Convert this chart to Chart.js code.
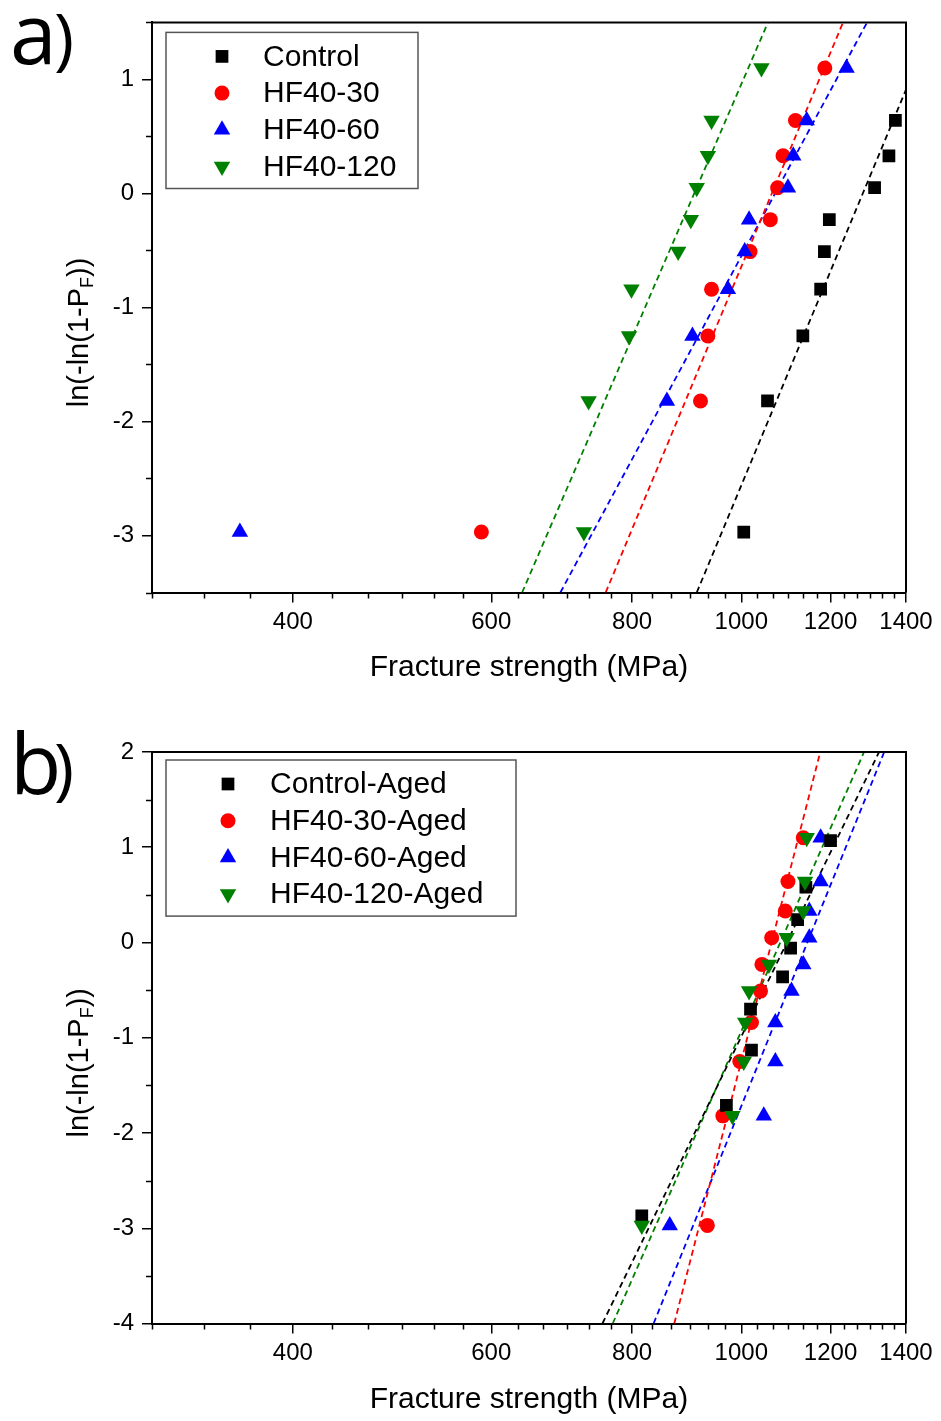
<!DOCTYPE html>
<html>
<head>
<meta charset="utf-8">
<title>Weibull plots of fracture strength</title>
<script src="https://cdn.jsdelivr.net/npm/chart.js@4.4.0/dist/chart.umd.min.js"></script>
<style>
  body { margin: 0; background: #fff; }
  canvas { position: absolute; left: 0; }
  #chartA { top: 0; }
  #chartB { top: 720px; }
</style>
</head>
<body>
<canvas id="chartA" width="941" height="705"></canvas>
<canvas id="chartB" width="941" height="701"></canvas>
<script>
// axis ticks
const strengthTicks = [400, 600, 800, 1000, 1200, 1400];
const yTicksA = [-3, -2, -1, 0, 1];
const yTicksB = [-4, -3, -2, -1, 0, 1, 2];

// ln(-ln(1-PF)) ranks
const rankY = [-2.97, -1.82, -1.25, -0.84, -0.51, -0.23, 0.05, 0.33, 0.64, 1.10];
const controlY = [-2.97, -1.82, -1.25, -0.84, -0.51, -0.23, 0.05, 0.33, 0.64];
const controlAgedY = [-2.87, -1.71, -1.13, -0.70, -0.36, -0.06, 0.24, 0.58, 1.07];

// panel a) strengths (MPa)
const controlX = [1005, 1055, 1134, 1176, 1185, 1197, 1313, 1352, 1370];
const hf30X = [588, 920, 934, 941, 1018, 1061, 1077, 1089, 1117, 1186];
const hf60X = [359, 859, 905, 973, 1007, 1016, 1100, 1112, 1143, 1240];
const hf120X = [725, 732, 795, 799, 879, 902, 913, 934, 941, 1042];

// panel a) fit lines
const controlFitX = [913, 1400], controlFitY = [-3.5, 0.91];
const hf30FitX = [758, 1231], hf30FitY = [-3.5, 1.5];
const hf60FitX = [691, 1293], hf60FitY = [-3.5, 1.5];
const hf120FitX = [639, 1056], hf120FitY = [-3.5, 1.5];

// panel b) strengths (MPa)
const controlAgedX = [816, 970, 1021, 1019, 1088, 1106, 1122, 1141, 1200];
const hf30AgedX = [933, 963, 997, 1021, 1040, 1043, 1064, 1094, 1100, 1135];
const hf60AgedX = [864, 1047, 1072, 1072, 1108, 1135, 1149, 1149, 1176, 1176];
const hf120AgedX = [816, 982, 1005, 1008, 1016, 1058, 1097, 1135, 1139, 1143];

// panel b) fit lines
const controlAgedFitX = [753, 1325], controlAgedFitY = [-4, 2];
const hf30AgedFitX = [872, 1175], hf30AgedFitY = [-4, 2];
const hf60AgedFitX = [836, 1339], hf60AgedFitY = [-4, 2];
const hf120AgedFitX = [769, 1285], hf120AgedFitY = [-4, 2];

const FONT = '"Liberation Sans", Arial, sans-serif';
const BLACK = '#000000', RED = '#ff0000', BLUE = '#0000ff', GREEN = '#008000';

function pts(xs, ys) {
  return xs.map((x, i) => ({ x: x, y: ys[i] }));
}

function markerSet(label, xs, ys, color, style, order) {
  const down = style === 'triangleDown';
  const radius = style === 'rect' ? 9 : (style === 'circle' ? 7.5 : 9.5);
  return {
    label: label,
    data: pts(xs, ys),
    pointStyle: down ? 'triangle' : style,
    pointRotation: down ? 180 : 0,
    pointRadius: radius,
    pointBackgroundColor: color,
    pointBorderColor: color,
    pointBorderWidth: 0,
    showLine: false,
    order: order
  };
}

function fitSet(xs, ys, color) {
  return {
    label: '',
    isFit: true,
    data: pts(xs, ys),
    showLine: true,
    borderColor: color,
    borderWidth: 1.8,
    borderDash: [6, 4],
    pointRadius: 0,
    order: 10
  };
}

// minor ticks, tick marks on top/right frame, panel letter, y title with subscript
const decorations = {
  id: 'decorations',
  afterDraw(chart) {
    const { ctx, chartArea: ca, scales: { x, y } } = chart;
    const o = chart.options.plugins.decorations;
    ctx.save();
    ctx.strokeStyle = '#000';
    ctx.lineWidth = 2;
    ctx.beginPath();
    ctx.moveTo(ca.left, ca.top);
    ctx.lineTo(ca.right, ca.top);
    ctx.lineTo(ca.right, ca.bottom);
    ctx.stroke();

    ctx.lineWidth = 1.5;
    ctx.beginPath();
    for (let v = 300; v < 1400; v += 100 / 3) {
      if (strengthTicks.some(m => Math.abs(m - v) < 1)) continue;
      const px = Math.round(x.getPixelForValue(v)) + 0.5;
      ctx.moveTo(px, ca.bottom);
      ctx.lineTo(px, ca.bottom + 6);
    }
    for (let v = y.min; v <= y.max + 0.01; v += 0.5) {
      if (Math.abs(v - Math.round(v)) < 0.01) continue;
      const py = Math.round(y.getPixelForValue(v)) + 0.5;
      ctx.moveTo(ca.left, py);
      ctx.lineTo(ca.left - 6, py);
    }
    ctx.stroke();

    // panel letter
    ctx.fillStyle = '#000';
    ctx.textBaseline = 'alphabetic';
    ctx.textAlign = 'left';
    ctx.font = '84px "Open Sans", sans-serif';
    ctx.fillText(o.letter, 10, o.letterBase);
    ctx.font = '68px "Open Sans", sans-serif';
    ctx.fillText(')', 54, o.letterBase - 2);

    // y title: ln(-ln(1-P_F))
    const cy = (ca.top + ca.bottom) / 2 + 25;
    ctx.translate(80, cy);
    ctx.rotate(-Math.PI / 2);
    ctx.textBaseline = 'middle';
    const mainFont = '29px ' + FONT, subFont = '18px ' + FONT;
    ctx.font = mainFont;
    const w1 = ctx.measureText('ln(-ln(1-P').width;
    const w3 = ctx.measureText('))').width;
    ctx.font = subFont;
    const w2 = ctx.measureText('F').width;
    let tx = -(w1 + w2 + w3) / 2;
    ctx.font = mainFont;
    ctx.fillText('ln(-ln(1-P', tx, 0);
    tx += w1;
    ctx.font = subFont;
    ctx.fillText('F', tx, 8);
    tx += w2;
    ctx.font = mainFont;
    ctx.fillText('))', tx, 0);
    ctx.restore();
  }
};

// boxed legend inside the plot, top left
const boxLegend = {
  id: 'boxLegend',
  afterDraw(chart) {
    const { ctx, chartArea: ca } = chart;
    const o = chart.options.plugins.boxLegend;
    const sets = chart.data.datasets.filter(d => !d.isFit);
    const left = ca.left + 14, top = ca.top + o.dy;
    const rowH = 36.7;
    const height = 24 + rowH * (sets.length - 1) + 22;
    ctx.save();
    ctx.fillStyle = '#fff';
    ctx.fillRect(left, top, o.width, height);
    ctx.strokeStyle = '#555';
    ctx.lineWidth = 1.5;
    ctx.strokeRect(left, top, o.width, height);
    ctx.font = '30px ' + FONT;
    ctx.textBaseline = 'middle';
    ctx.textAlign = 'left';
    sets.forEach((d, i) => {
      const cy = top + 24 + i * rowH;
      const mx = left + o.markerDx;
      ctx.fillStyle = d.pointBackgroundColor;
      Chart.helpers.drawPoint(ctx, {
        pointStyle: d.pointStyle,
        rotation: d.pointRotation,
        radius: d.pointRadius,
        borderWidth: 0
      }, mx, cy);
      ctx.fillStyle = '#000';
      ctx.fillText(d.label, left + o.textDx, cy + 1);
    });
    ctx.restore();
  }
};

function makeOptions(yTicks, yMin, yMax, xAxisHeight, titlePad, padTop, letter, letterBase, legend) {
  return {
    responsive: false,
    animation: false,
    devicePixelRatio: 1,
    layout: { padding: { top: padTop, right: 35, left: 0, bottom: 0 } },
    plugins: {
      legend: { display: false },
      tooltip: { enabled: false },
      decorations: { letter: letter, letterBase: letterBase },
      boxLegend: legend
    },
    scales: {
      x: {
        type: 'logarithmic',
        min: 300,
        max: 1400,
        afterBuildTicks: s => { s.ticks = strengthTicks.map(v => ({ value: v })); },
        afterFit: s => { s.height = xAxisHeight; },
        border: { display: true, color: '#000', width: 2 },
        grid: { display: true, drawOnChartArea: false, drawTicks: true, tickLength: 10, color: '#000', lineWidth: 1.5 },
        ticks: {
          color: '#000',
          font: { family: FONT, size: 24 },
          padding: 5,
          autoSkip: false,
          maxRotation: 0,
          callback: v => String(v)
        },
        title: {
          display: true,
          text: 'Fracture strength (MPa)',
          color: '#000',
          font: { family: FONT, size: 30 },
          padding: { top: 0, bottom: titlePad }
        }
      },
      y: {
        min: yMin,
        max: yMax,
        afterBuildTicks: s => { s.ticks = yTicks.map(v => ({ value: v })); },
        afterFit: s => { s.width = 152; },
        border: { display: true, color: '#000', width: 2 },
        grid: { display: true, drawOnChartArea: false, drawTicks: true, tickLength: 10, color: '#000', lineWidth: 1.5 },
        ticks: {
          color: '#000',
          font: { family: FONT, size: 24 },
          padding: 8,
          callback: v => String(v)
        }
      }
    }
  };
}

new Chart(document.getElementById('chartA'), {
  type: 'scatter',
  data: {
    datasets: [
      markerSet('Control', controlX, controlY, BLACK, 'rect', 1),
      markerSet('HF40-30', hf30X, rankY, RED, 'circle', 3),
      markerSet('HF40-60', hf60X, rankY, BLUE, 'triangle', 2),
      markerSet('HF40-120', hf120X, rankY, GREEN, 'triangleDown', 0),
      fitSet(controlFitX, controlFitY, BLACK),
      fitSet(hf30FitX, hf30FitY, RED),
      fitSet(hf60FitX, hf60FitY, BLUE),
      fitSet(hf120FitX, hf120FitY, GREEN)
    ]
  },
  options: makeOptions(yTicksA, -3.5, 1.5, 112.5, 19, 17.5, 'a', 64,
    { dy: 10, width: 252, markerDx: 56, textDx: 97 }),
  plugins: [decorations, boxLegend]
});

new Chart(document.getElementById('chartB'), {
  type: 'scatter',
  data: {
    datasets: [
      markerSet('Control-Aged', controlAgedX, controlAgedY, BLACK, 'rect', 1),
      markerSet('HF40-30-Aged', hf30AgedX, rankY, RED, 'circle', 3),
      markerSet('HF40-60-Aged', hf60AgedX, rankY, BLUE, 'triangle', 2),
      markerSet('HF40-120-Aged', hf120AgedX, rankY, GREEN, 'triangleDown', 0),
      fitSet(controlAgedFitX, controlAgedFitY, BLACK),
      fitSet(hf30AgedFitX, hf30AgedFitY, RED),
      fitSet(hf60AgedFitX, hf60AgedFitY, BLUE),
      fitSet(hf120AgedFitX, hf120AgedFitY, GREEN)
    ]
  },
  options: makeOptions(yTicksB, -4, 2, 97.5, 3, 32, 'b', 74,
    { dy: 8, width: 350, markerDx: 62, textDx: 104 }),
  plugins: [decorations, boxLegend]
});
</script>
</body>
</html>
